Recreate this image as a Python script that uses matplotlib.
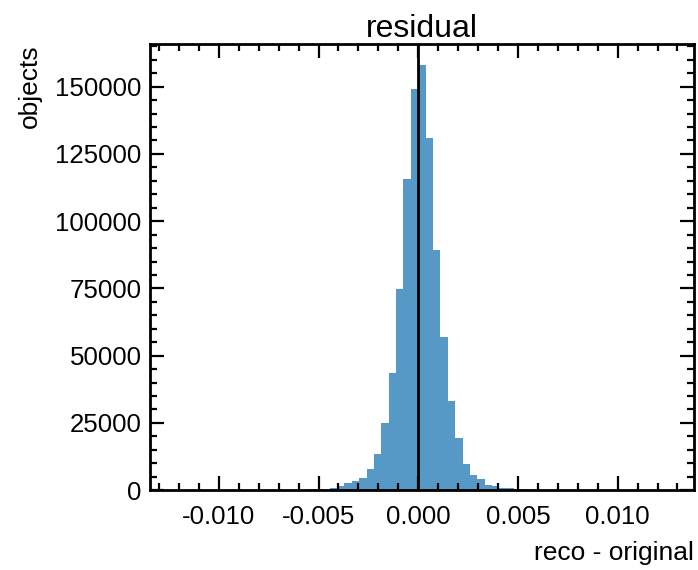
import numpy as np
import matplotlib
matplotlib.use("Agg")
import matplotlib.pyplot as plt
from matplotlib.ticker import MultipleLocator

# bin definition (data range of residuals)
bin_lo = -0.01221
bin_hi = 0.01258
n_bins = 67

# counts per bin, left to right (33 bins below zero, 34 above)
counts_neg = [
    1, 2, 1, 2, 3, 2, 4, 5,
    6, 8, 10, 14, 30, 60, 80, 100, 150, 250,
    300, 400, 500, 800, 1500, 2500, 3300, 4600, 7900, 13600,
    25100, 43600, 74900, 115700, 149100,
]
counts_pos = [
    158000, 131100, 89400, 57000, 33000, 19400, 9900, 5800, 4000, 2100,
    1500, 1000, 650, 450, 300, 220, 160, 120, 80, 55,
    35, 22, 14, 9, 6, 4, 3, 2, 2, 1,
    1, 1, 0, 1,
]
counts = counts_neg + counts_pos

title = "residual"
xlabel = "reco - original"
ylabel = "objects"
vline_x = 0.0

edges = np.linspace(bin_lo, bin_hi, n_bins + 1)
centers = 0.5 * (edges[:-1] + edges[1:])

plt.rcParams['font.family'] = ['Liberation Sans', 'DejaVu Sans']
plt.rcParams['xtick.direction'] = 'in'
plt.rcParams['ytick.direction'] = 'in'

fig = plt.figure(figsize=(6.98, 5.70), dpi=100)
ax = fig.add_axes([0.215, 0.140, 0.779, 0.783])

ax.hist(centers, bins=edges, weights=counts, color='tab:blue', alpha=0.75)
ax.axvline(vline_x, color='black', lw=2)

ax.xaxis.set_major_locator(MultipleLocator(0.005))
ax.xaxis.set_minor_locator(MultipleLocator(0.001))
ax.yaxis.set_major_locator(MultipleLocator(25000))
ax.yaxis.set_minor_locator(MultipleLocator(5000))
ax.xaxis.set_major_formatter(plt.FuncFormatter(lambda v, p: f"{v:.3f}".replace("-0.000", "0.000")))

ax.tick_params(which='both', top=True, right=True, width=1.6)
ax.tick_params(which='major', length=10, labelsize=18.6)
ax.tick_params(which='minor', length=5)
ax.tick_params(axis='x', which='major', pad=11)
ax.tick_params(axis='y', which='major', pad=6)
for s in ax.spines.values():
    s.set_linewidth(2)

ax.set_title(title, fontsize=23, pad=4)
ax.set_xlabel(xlabel, fontsize=19, loc='right', labelpad=8)
ax.set_ylabel(ylabel, fontsize=19, loc='top', labelpad=10)

fig.savefig("out.png", dpi=100)
